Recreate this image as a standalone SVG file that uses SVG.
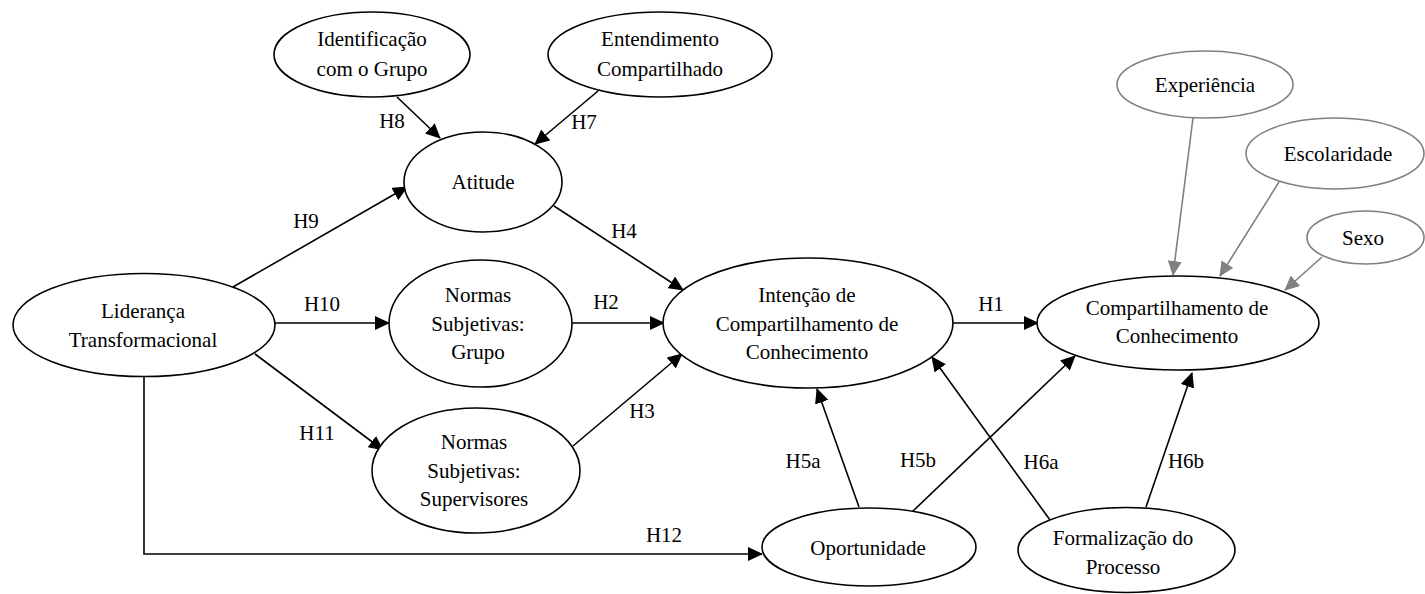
<svg xmlns="http://www.w3.org/2000/svg" width="1425" height="594" viewBox="0 0 1425 594" font-family="Liberation Serif, Times New Roman, Times, serif" font-size="21">
  <style>
    .node ellipse { fill: #ffffff; stroke: #000000; stroke-width: 1.6; }
    .node.ctrl ellipse { stroke: #808080; }
    text { font-family: 'Liberation Serif', 'Times New Roman', Times, serif; font-size: 21px; fill: #000000; text-anchor: middle; }
    .edge { fill: none; stroke: #000000; stroke-width: 1.6; marker-end: url(#arrow); }
    .edge.ctrl { stroke: #808080; marker-end: url(#arrowGrey); }
  </style>
  <defs>
    <marker id="arrow" viewBox="0 0 15 14" refX="14" refY="7" markerWidth="15" markerHeight="14" markerUnits="userSpaceOnUse" orient="auto">
      <path d="M0,0 L15,7 L0,14 z" fill="#000000"/>
    </marker>
    <marker id="arrowGrey" viewBox="0 0 15 14" refX="14" refY="7" markerWidth="15" markerHeight="14" markerUnits="userSpaceOnUse" orient="auto">
      <path d="M0,0 L15,7 L0,14 z" fill="#808080"/>
    </marker>
  </defs>

  <rect x="0" y="0" width="1425" height="594" fill="#ffffff"/>

  <g id="connectors">
    <line class="edge" x1="397" y1="97" x2="440" y2="138"/>
    <line class="edge" x1="598" y1="91" x2="535" y2="144"/>
    <line class="edge" x1="554" y1="206" x2="683" y2="290"/>
    <line class="edge" x1="233" y1="287" x2="407" y2="187"/>
    <line class="edge" x1="275" y1="323" x2="389" y2="323"/>
    <line class="edge" x1="255" y1="354" x2="383" y2="450"/>
    <polyline class="edge" points="144,377 144,554 762,554"/>
    <line class="edge" x1="572" y1="323" x2="664" y2="323"/>
    <line class="edge" x1="573" y1="446" x2="682" y2="354"/>
    <line class="edge" x1="953" y1="323" x2="1038" y2="323"/>
    <line class="edge" x1="859" y1="507" x2="817" y2="389"/>
    <line class="edge" x1="912" y1="512" x2="1075" y2="356"/>
    <line class="edge" x1="1050" y1="520" x2="932" y2="357"/>
    <line class="edge" x1="1146" y1="507" x2="1192" y2="373"/>
    <line class="edge ctrl" x1="1193" y1="118" x2="1173" y2="275"/>
    <line class="edge ctrl" x1="1279" y1="182" x2="1220" y2="276"/>
    <line class="edge ctrl" x1="1322" y1="257" x2="1285" y2="290"/>

    <g id="edge-labels">
      <text x="392" y="128">H8</text>
      <text x="584" y="129">H7</text>
      <text x="624" y="238">H4</text>
      <text x="306" y="228">H9</text>
      <text x="322" y="311">H10</text>
      <text x="317" y="440">H11</text>
      <text x="664" y="542">H12</text>
      <text x="606" y="309">H2</text>
      <text x="642" y="418">H3</text>
      <text x="991" y="311">H1</text>
      <text x="803" y="468">H5a</text>
      <text x="918" y="467">H5b</text>
      <text x="1041" y="469">H6a</text>
      <text x="1186" y="468">H6b</text>
    </g>
  </g>

  <g id="identificacao" class="node">
    <ellipse cx="372" cy="54.5" rx="98" ry="42.5"/>
    <text x="372" y="46">Identificação</text>
    <text x="372" y="76">com o Grupo</text>
  </g>

  <g id="entendimento" class="node">
    <ellipse cx="660" cy="54.5" rx="112" ry="42.5"/>
    <text x="660" y="46">Entendimento</text>
    <text x="660" y="76">Compartilhado</text>
  </g>

  <g id="atitude" class="node">
    <ellipse cx="483" cy="182" rx="79" ry="50"/>
    <text x="483" y="189">Atitude</text>
  </g>

  <g id="lideranca" class="node">
    <ellipse cx="144" cy="325" rx="131" ry="51.5"/>
    <text x="143" y="318">Liderança</text>
    <text x="143" y="347">Transformacional</text>
  </g>

  <g id="normas-grupo" class="node">
    <ellipse cx="480.5" cy="323.5" rx="91.5" ry="63.5"/>
    <text x="478" y="302">Normas</text>
    <text x="478" y="331">Subjetivas:</text>
    <text x="478" y="359">Grupo</text>
  </g>

  <g id="normas-supervisores" class="node">
    <ellipse cx="476" cy="470.5" rx="104" ry="62.5"/>
    <text x="474" y="449">Normas</text>
    <text x="474" y="478">Subjetivas:</text>
    <text x="474" y="506">Supervisores</text>
  </g>

  <g id="intencao" class="node">
    <ellipse cx="808" cy="323" rx="145" ry="65"/>
    <text x="807" y="302">Intenção de</text>
    <text x="807" y="331">Compartilhamento de</text>
    <text x="807" y="359">Conhecimento</text>
  </g>

  <g id="compartilhamento" class="node">
    <ellipse cx="1178" cy="323" rx="141" ry="47"/>
    <text x="1177" y="315">Compartilhamento de</text>
    <text x="1177" y="343">Conhecimento</text>
  </g>

  <g id="experiencia" class="node ctrl">
    <ellipse cx="1205" cy="84.5" rx="88" ry="33.5"/>
    <text x="1205" y="92">Experiência</text>
  </g>

  <g id="escolaridade" class="node ctrl">
    <ellipse cx="1335" cy="153.5" rx="89" ry="35.5"/>
    <text x="1338" y="161">Escolaridade</text>
  </g>

  <g id="sexo" class="node ctrl">
    <ellipse cx="1365.5" cy="237.5" rx="58.5" ry="26.5"/>
    <text x="1363" y="245">Sexo</text>
  </g>

  <g id="oportunidade" class="node">
    <ellipse cx="869" cy="547" rx="107" ry="39"/>
    <text x="868" y="555">Oportunidade</text>
  </g>

  <g id="formalizacao" class="node">
    <ellipse cx="1126.5" cy="550" rx="108.5" ry="42.5"/>
    <text x="1123" y="545">Formalização do</text>
    <text x="1123" y="574">Processo</text>
  </g>
</svg>
